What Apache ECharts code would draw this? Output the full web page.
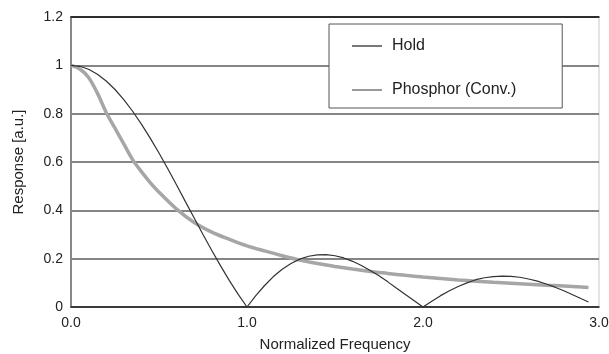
<!DOCTYPE html>
<html>
<head>
<meta charset="utf-8">
<script src="https://cdn.jsdelivr.net/npm/echarts@6/dist/echarts.min.js"></script>
<style>
  html, body { margin: 0; padding: 0; background: #fff; }
  #chart { width: 609px; height: 354px; }
</style>
</head>
<body>
<div id="chart"></div>
<script>
// values
const holdFreq = [0, 0.05, 0.1, 0.15, 0.2, 0.25, 0.3, 0.35, 0.4, 0.45, 0.5, 0.55, 0.6, 0.65, 0.7, 0.75, 0.8, 0.85, 0.9, 0.95,
    1.0, 1.05, 1.1, 1.15, 1.2, 1.25, 1.3, 1.35, 1.4, 1.45, 1.5, 1.55, 1.6, 1.65, 1.7, 1.75, 1.8, 1.85, 1.9, 1.95,
    2.0, 2.05, 2.1, 2.15, 2.2, 2.25, 2.3, 2.35, 2.4, 2.45, 2.5, 2.55, 2.6, 2.65, 2.7, 2.75, 2.8, 2.85, 2.9, 2.94];
const holdValues = [1.0, 0.996, 0.984, 0.963, 0.935, 0.9, 0.858, 0.81, 0.757, 0.699, 0.637, 0.572, 0.505, 0.436, 0.368, 0.3, 0.234, 0.17, 0.109, 0.052,
    0, 0.047, 0.089, 0.126, 0.156, 0.18, 0.198, 0.21, 0.216, 0.217, 0.212, 0.203, 0.189, 0.172, 0.151, 0.129, 0.104, 0.078, 0.052, 0.026,
    0, 0.024, 0.047, 0.067, 0.085, 0.1, 0.113, 0.121, 0.126, 0.128, 0.127, 0.123, 0.116, 0.107, 0.095, 0.082, 0.067, 0.051, 0.034, 0.021];

const phosphorFreq = [0, 0.05, 0.1, 0.15, 0.2, 0.25, 0.3, 0.35, 0.4, 0.45, 0.5, 0.6, 0.7, 0.8, 0.9, 1.0,
    1.1, 1.2, 1.3, 1.4, 1.5, 1.6, 1.7, 1.8, 1.9, 2.0, 2.1, 2.2, 2.3, 2.4, 2.5, 2.6, 2.7, 2.8, 2.9, 2.94];
const phosphorValues = [1.0, 0.985, 0.95, 0.885, 0.805, 0.74, 0.675, 0.61, 0.56, 0.515, 0.475, 0.405, 0.35, 0.31, 0.28, 0.253,
    0.232, 0.212, 0.194, 0.18, 0.168, 0.157, 0.147, 0.139, 0.131, 0.124, 0.118, 0.112, 0.107, 0.102, 0.098, 0.094, 0.09, 0.087, 0.083, 0.081];

const xTicks = [0, 1, 2, 3];
const yTicks = [0, 0.2, 0.4, 0.6, 0.8, 1, 1.2];

const zip = (xs, ys) => xs.map((x, i) => [x, ys[i]]);
const font = 'Liberation Sans, Arial, sans-serif';

const chart = echarts.init(document.getElementById('chart'));
chart.setOption({
    animation: false,
    textStyle: { fontFamily: font, color: '#222' },
    grid: {
        left: 71,
        right: 10,
        top: 17,
        bottom: 47,
        outerBoundsMode: 'none',
        containLabel: false,
        show: true,
        borderColor: '#c8c8c8',
        borderWidth: 1,
    },
    legend: {
        orient: 'vertical',
        left: 329,
        top: 24,
        padding: [14, 46, 10, 23],
        itemGap: 28,
        itemWidth: 30,
        itemHeight: 14,
        backgroundColor: '#fff',
        borderColor: '#555',
        borderWidth: 1,
        textStyle: { fontSize: 16, color: '#222', fontFamily: font, padding: [0, 0, 0, 5] },
        data: [
            { name: 'Hold', icon: 'path://M0,0L30,0L30,2L0,2Z', itemStyle: { color: '#777' } },
            { name: 'Phosphor (Conv.)', icon: 'path://M0,0L30,0L30,2L0,2Z', itemStyle: { color: '#999' } },
        ],
    },
    xAxis: [
        {
            type: 'value',
            min: 0,
            max: 3,
            interval: 1,
            name: 'Normalized Frequency',
            nameLocation: 'middle',
            nameGap: 30,
            nameTextStyle: { fontSize: 15, color: '#222' },
            axisLine: { show: true, lineStyle: { color: '#222', width: 1.5 } },
            axisTick: { show: false },
            splitLine: { show: false },
            axisLabel: {
                fontSize: 14,
                color: '#222',
                margin: 9,
                formatter: v => v.toFixed(1),
                showMaxLabel: true,
            },
        },
        {
            type: 'value',
            position: 'top',
            min: 0,
            max: 3,
            axisLine: { show: true, lineStyle: { color: '#111', width: 1.5 } },
            axisTick: { show: false },
            axisLabel: { show: false },
            splitLine: { show: false },
        },
    ],
    yAxis: {
        type: 'value',
        min: 0,
        max: 1.2,
        interval: 0.2,
        name: 'Response [a.u.]',
        nameLocation: 'middle',
        nameGap: 45,
        nameRotate: 90,
        nameTextStyle: { fontSize: 15, color: '#222' },
        axisLine: { show: true, lineStyle: { color: '#888', width: 2 } },
        axisTick: { show: false },
        axisLabel: {
            fontSize: 14,
            color: '#222',
            margin: 8,
            formatter: v => String(Math.round(v * 10) / 10),
        },
        splitLine: { show: true, lineStyle: { color: '#858585', width: 2 } },
    },
    series: [
        {
            name: 'Phosphor (Conv.)',
            type: 'line',
            data: zip(phosphorFreq, phosphorValues),
            symbol: 'none',
            smooth: 0.3,
            lineStyle: { color: '#a6a6a6', width: 3.5 },
            itemStyle: { color: '#999' },
            z: 3,
        },
        {
            name: 'Hold',
            type: 'line',
            data: zip(holdFreq, holdValues),
            symbol: 'none',
            lineStyle: { color: '#333', width: 1.2 },
            itemStyle: { color: '#777' },
            z: 4,
        },
    ],
});
</script>
</body>
</html>
